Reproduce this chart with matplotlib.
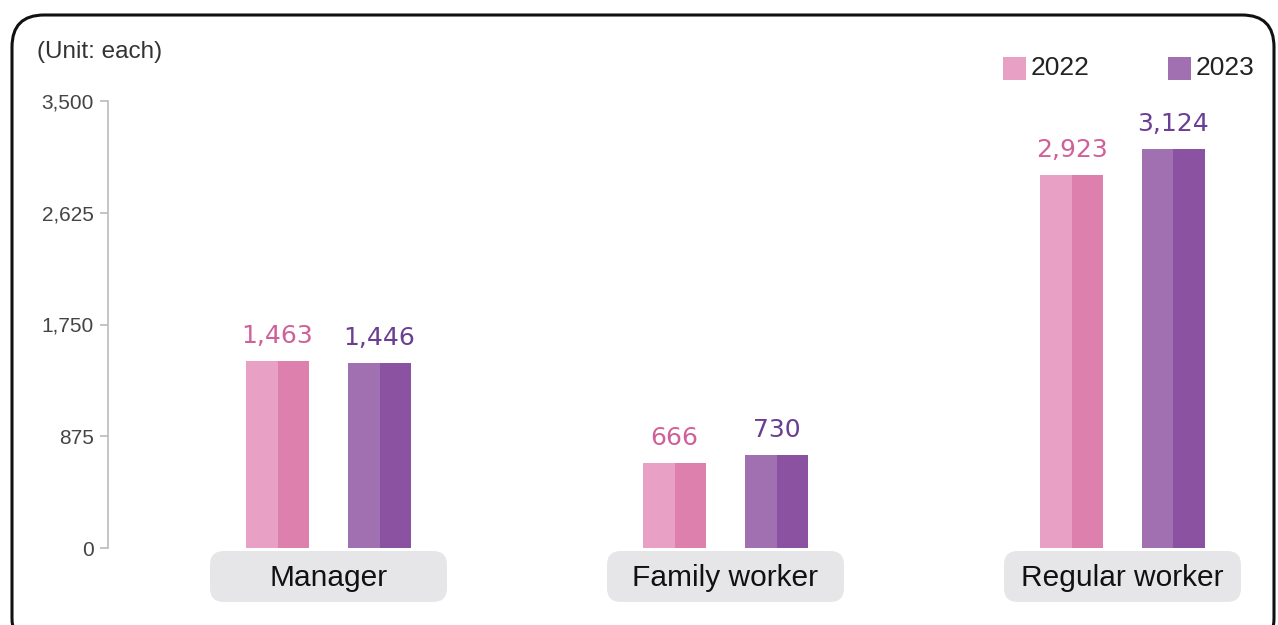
import matplotlib
matplotlib.use("Agg")
import matplotlib.pyplot as plt
from matplotlib.patches import FancyBboxPatch, Rectangle
from matplotlib.ticker import FuncFormatter

categories = ["Manager", "Family worker", "Regular worker"]
series_names = ["2022", "2023"]
values_2022 = [1463, 666, 2923]
values_2023 = [1446, 730, 3124]
yticks = [0, 875, 1750, 2625, 3500]

light = ["#e8a0c5", "#a070b0"]
dark = ["#dd80ae", "#8a52a0"]
label_colors = ["#d0609a", "#6a3e92"]

W, H = 1278, 625
fig = plt.figure(figsize=(W / 100, H / 100), dpi=100)

# outer rounded frame (figure pixels)
frame = FancyBboxPatch((12, -25), 1262, 635, boxstyle="round,pad=0,rounding_size=32",
                       transform=None, fill=False, edgecolor="#111111", linewidth=2.2)
fig.patches.append(frame)

ax_left, ax_bottom = 108 / W, (H - 548) / H
ax_w, ax_h = (1270 - 108) / W, (548 - 101) / H
ax = fig.add_axes([ax_left, ax_bottom, ax_w, ax_h])

spacing = 397.0
xleft = -(328.5 - 108) / spacing
xright = 2 + (1270 - 1122.5) / spacing
ax.set_xlim(xleft, xright)
ax.set_ylim(0, 3500)

bw = 63 / spacing
off = 51 / spacing
series = [values_2022, values_2023]
for si, vals in enumerate(series):
    for ci, v in enumerate(vals):
        xc = ci + (-off if si == 0 else off)
        ax.bar(xc - bw / 4, v, bw / 2, color=light[si], linewidth=0)
        ax.bar(xc + bw / 4, v, bw / 2, color=dark[si], linewidth=0)
        ax.annotate(f"{v:,}", (xc, v), xytext=(0, 13), textcoords="offset points",
                    ha="center", va="baseline", fontsize=18, color=label_colors[si],
                    family="DejaVu Sans")

for s in ["top", "right", "bottom"]:
    ax.spines[s].set_visible(False)
ax.spines["left"].set_color("#bbbbbb")
ax.spines["left"].set_linewidth(1.2)
ax.set_xticks([])
ax.set_yticks(yticks)
ax.yaxis.set_major_formatter(FuncFormatter(lambda v, p: f"{int(v):,}"))
ax.tick_params(axis="y", length=6, width=1.2, color="#bbbbbb", pad=4,
               labelsize=15, labelcolor="#444444")
for t in ax.get_yticklabels():
    t.set_family("Liberation Sans")

# category label boxes
fig.canvas.draw()
px_per_x = spacing
px_per_y = 447 / 3500
mut_aspect = (1 / px_per_y) / (1 / px_per_x)
box_w = 237 / spacing
y_top = -3 / px_per_y
y_bot = -54 / px_per_y
for ci, cat in enumerate(categories):
    b = FancyBboxPatch((ci - box_w / 2, y_bot), box_w, y_top - y_bot,
                       boxstyle="round,pad=0,rounding_size=0.035",
                       mutation_aspect=mut_aspect, facecolor="#e6e6e8",
                       edgecolor="none", clip_on=False, transform=ax.transData)
    ax.add_patch(b)
    ax.text(ci, (y_top + y_bot) / 2 - 1.5 / px_per_y, cat, ha="center", va="center",
            fontsize=21.5, family="Liberation Sans", color="#111111", clip_on=False)

# unit label
fig.text(37 / W, 1 - 52 / H, "(Unit: each)", ha="left", va="center", fontsize=17.5,
         family="Liberation Sans", color="#333333")

# legend
leg_x = [1003, 1168]
for si, name in enumerate(series_names):
    fig.patches.append(Rectangle((leg_x[si], H - 80), 23, 23, transform=None,
                                 facecolor=light[si], edgecolor="none"))
    fig.text((leg_x[si] + 28) / W, 1 - 68 / H, name, ha="left", va="center",
             fontsize=19, family="Liberation Sans", color="#222222")

fig.savefig("out.png", dpi=100)
